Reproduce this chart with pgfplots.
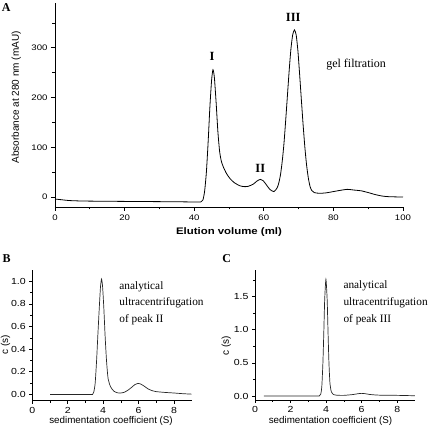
\documentclass[border=0pt]{standalone}
\usepackage{fontspec}
\setmainfont{Liberation Serif}
\setsansfont{Liberation Sans}
\newfontfamily\wsans{Liberation Sans}[FakeStretch=1.2]
\usepackage{pgfplots}
\pgfplotsset{compat=1.18}

\pgfplotsset{
  originstyle/.style={
    scale only axis,
    axis lines=left,
    axis line style={-, line width=0.8pt, black},
    tick align=outside,
    tick style={line width=0.7pt, black},
    /pgf/number format/assume math mode=true,
    clip=false,
  },
}

\begin{document}
\begin{tikzpicture}
\path[use as bounding box] (0pt,0pt) rectangle (432pt,-430pt);

% ---------------- Panel A ----------------
\begin{axis}[originstyle,
  at={(55pt,-207pt)}, anchor=south west,
  width=348pt, height=204pt,
  xmin=0, xmax=100, ymin=-20, ymax=390,
  xtick={0,20,40,60,80,100}, minor xtick={10,30,50,70,90},
  ytick={0,100,200,300}, minor ytick={50,150,250,350},
  major tick length=4pt, minor tick length=2.5pt,
  ticklabel style={font=\wsans\fontsize{8}{9}\selectfont},
  xlabel={Elution volume (ml)},
  ylabel={Absorbance at 280 nm (mAU)},
  xlabel style={font=\wsans\bfseries\fontsize{9.5}{11}\selectfont, at={(axis description cs:0.5,-0.1225)}, anchor=center},
  ylabel style={font=\sffamily\fontsize{10}{11}\selectfont, at={(axis description cs:-0.1115,0.538)}, anchor=center},
]
\addplot[black, line width=0.8pt, smooth, tension=0.4] coordinates {
(0,-4) (2,-5.5) (4,-7) (8,-8) (15,-8.5) (25,-9) (35,-9.5) (41,-10) (42,-9.5)
(42.5,-6) (43.0,12) (43.5,50) (44.0,110) (44.5,180) (45.0,235) (45.4,256)
(45.8,240) (46.3,190) (46.8,132) (47.3,92) (47.8,72) (48.4,60) (49.3,47)
(50.3,37) (51.5,29) (53,23) (54.2,21) (55.5,21.5) (57,26) (58,32) (59,35.5)
(59.8,33) (60.8,24) (61.8,15) (62.9,11) (63.8,18) (64.3,28) (64.8,45)
(65.3,72) (65.8,108) (66.3,155) (66.8,205) (67.3,255) (67.8,298) (68.3,326)
(68.8,336) (69.3,326) (69.8,294) (70.3,246) (70.8,195) (71.3,145) (71.8,100)
(72.3,64) (72.8,38) (73.3,21) (73.8,13) (74.5,9) (76,7.5) (78,8.5) (80,11)
(82,13.5) (84,15.5) (86,14) (88,12.5) (90,9) (92,5) (94,2) (96,0.7) (100,0)
};
\node[font=\bfseries\fontsize{12.5}{13}\selectfont] at (axis cs:45.1,281.7) {I};
\node[font=\bfseries\fontsize{12.5}{13}\selectfont] at (axis cs:59.0,58.3) {II};
\node[font=\bfseries\fontsize{12.5}{13}\selectfont] at (axis cs:68.45,360.3) {III};
\node[font=\fontsize{12}{13}\selectfont, anchor=base west, inner sep=0pt] at (axis cs:77.9,260) {gel filtration};
\end{axis}

% ---------------- Panel B ----------------
\begin{axis}[originstyle,
  at={(32.3pt,-400.7pt)}, anchor=south west,
  width=159.4pt, height=130.7pt,
  xmin=0, xmax=9, ymin=-0.055, ymax=1.1,
  xtick={0,2,4,6,8}, minor xtick={1,3,5,7},
  ytick={0,0.2,0.4,0.6,0.8,1.0}, minor ytick={0.1,0.3,0.5,0.7,0.9},
  major tick length=3pt, minor tick length=2pt,
  ticklabel style={font=\wsans\fontsize{8.8}{10}\selectfont},
  yticklabel style={/pgf/number format/.cd, fixed, fixed zerofill, precision=1},
  xlabel={sedimentation coefficient (S)},
  ylabel={c (s)},
  xlabel style={font=\sffamily\fontsize{9.8}{11}\selectfont, at={(axis description cs:0.494,-0.158)}, anchor=center},
  ylabel style={font=\sffamily\fontsize{10}{11}\selectfont, at={(axis description cs:-0.168,0.426)}, anchor=center},
]
\addplot[black!85, line width=0.7pt, smooth, tension=0.4] coordinates {
(1.0,0) (2.0,0) (3.0,0) (3.40,0.0) (3.47,0.02) (3.55,0.10) (3.63,0.30)
(3.70,0.52) (3.78,0.76) (3.85,0.95) (3.91,1.02) (3.97,0.95) (4.04,0.76)
(4.11,0.52) (4.19,0.30) (4.28,0.14) (4.42,0.068) (4.6,0.03) (4.8,0.015)
(5.0,0.013) (5.2,0.02) (5.4,0.038) (5.6,0.062) (5.8,0.088) (5.97,0.098)
(6.15,0.09) (6.35,0.07) (6.55,0.048) (6.8,0.032) (7.0,0.025) (7.5,0.018)
(8.0,0.013) (8.5,0.007) (9.0,0.003)
};
\node[font=\fontsize{11.3}{12}\selectfont, anchor=base west, inner sep=0pt] at (axis cs:4.91,0.932) {analytical};
\node[font=\fontsize{11.3}{12}\selectfont, anchor=base west, inner sep=0pt] at (axis cs:4.91,0.784) {ultracentrifugation};
\node[font=\fontsize{11.3}{12}\selectfont, anchor=base west, inner sep=0pt] at (axis cs:4.91,0.638) {of peak II};
\end{axis}

% ---------------- Panel C ----------------
\begin{axis}[originstyle,
  at={(255pt,-400pt)}, anchor=south west,
  width=160pt, height=130pt,
  xmin=0, xmax=9, ymin=-0.06, ymax=1.9,
  xtick={0,2,4,6,8}, minor xtick={1,3,5,7},
  ytick={0,0.5,1.0,1.5}, minor ytick={0.25,0.75,1.25,1.75},
  major tick length=3pt, minor tick length=2pt,
  ticklabel style={font=\wsans\fontsize{8.8}{10}\selectfont},
  yticklabel style={/pgf/number format/.cd, fixed, fixed zerofill, precision=1},
  xlabel={sedimentation coefficient (S)},
  ylabel={c (s)},
  xlabel style={font=\sffamily\fontsize{9.8}{11}\selectfont, at={(axis description cs:0.472,-0.158)}, anchor=center},
  ylabel style={font=\sffamily\fontsize{10}{11}\selectfont, at={(axis description cs:-0.18,0.417)}, anchor=center},
]
\addplot[black!85, line width=0.7pt, smooth, tension=0.4] coordinates {
(0.5,0) (2,0) (3.5,0) (3.62,0.003) (3.7,0.03) (3.76,0.15) (3.82,0.5)
(3.87,0.95) (3.92,1.45) (3.99,1.76) (4.06,1.45) (4.11,0.95) (4.16,0.5)
(4.22,0.18) (4.3,0.06) (4.4,0.025) (4.6,0.012) (5.0,0.01) (5.5,0.022)
(5.8,0.035) (6.0,0.04) (6.2,0.035) (6.5,0.022) (7.0,0.013) (8.0,0.01) (9.0,0.004)
};
\node[font=\fontsize{11.3}{12}\selectfont, anchor=base west, inner sep=0pt] at (axis cs:4.97,1.614) {analytical};
\node[font=\fontsize{11.3}{12}\selectfont, anchor=base west, inner sep=0pt] at (axis cs:4.97,1.362) {ultracentrifugation};
\node[font=\fontsize{11.3}{12}\selectfont, anchor=base west, inner sep=0pt] at (axis cs:4.97,1.112) {of peak III};
\end{axis}

% panel letters
\node[font=\bfseries\fontsize{12}{12}\selectfont] at (6.3pt,-7.3pt) {A};
\node[font=\bfseries\fontsize{12}{12}\selectfont] at (6.7pt,-258.8pt) {B};
\node[font=\bfseries\fontsize{12}{12}\selectfont] at (226.8pt,-258.8pt) {C};
\end{tikzpicture}
\end{document}
